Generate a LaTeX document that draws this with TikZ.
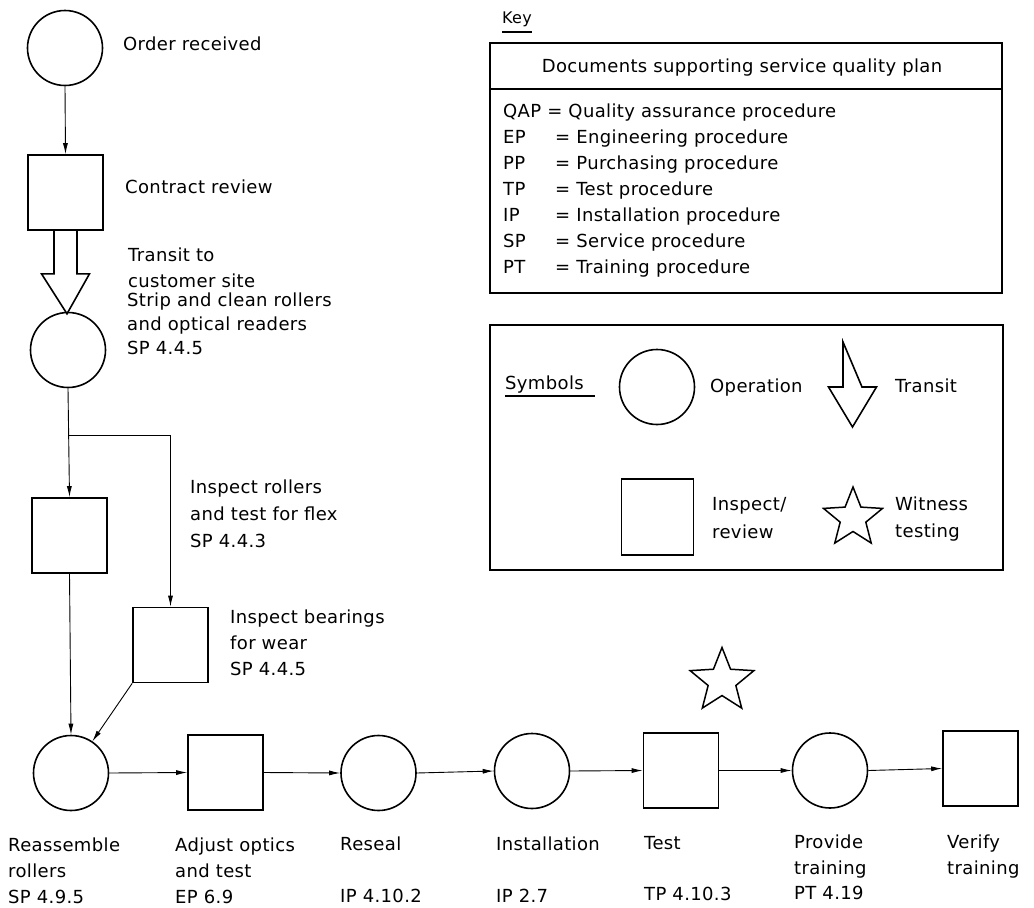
\documentclass[tikz,border=0pt]{standalone}
\usepackage{fontspec}
\setmainfont{DejaVu Sans}[LetterSpace=2]
\usetikzlibrary{arrows.meta,shapes.geometric,calc}
\begin{document}
\begin{tikzpicture}[x=1pt,y=-1pt,
  op/.style={circle,draw,line width=1.6pt,minimum size=75pt,inner sep=0},
  insp/.style={rectangle,draw,line width=1.6pt,minimum width=75pt,minimum height=75pt,inner sep=0},
  flow/.style={line width=0.9pt,-{Latex[length=11pt,width=5pt]}},
  txt/.style={anchor=base west,inner sep=0,font=\fontsize{18}{20}\selectfont},
  transit/.style={line width=1.6pt,line join=miter},
  witness/.style={star,star points=5,star point ratio=2.3,draw,line width=1.5pt,inner sep=0},
  keyline/.style={line width=1.3pt}]
\useasboundingbox (0,0) rectangle (1034,908);

% ---- flow shapes
\node[op] (order) at (65,48) {};
\node[insp] (contract) at (65.5,192.5) {};
\node[op] (strip) at (68,350) {};
\node[insp] (inrol) at (69.5,535.5) {};
\node[insp] (inbear) at (170.5,645) {};
\node[op] (reass) at (71,773) {};
\node[insp] (adjust) at (225.5,772.5) {};
\node[op] (reseal) at (378.5,773) {};
\node[op] (install) at (532,771) {};
\node[insp] (test) at (681,770.5) {};
\node[op] (provide) at (830,770.5) {};
\node[insp] (verify) at (980.5,768.5) {};
\node[witness,minimum size=67pt] (wstar) at (722,681) {};

% ---- connectors
\draw[flow] (order.south) -- (contract.north);
\draw[transit] ($(contract.south)+(-11.5,0)$) -- ++(0,43) -- ++(-12.5,0)
  -- ($(contract.south)+(1.5,83)$) -- ($(contract.south)+(24,43)$)
  -- ++(-12.5,0) -- ($(contract.south)+(11.5,0)$);
\draw[flow] (strip.south) -- (inrol.north);
\coordinate (branch) at ($(strip.south)!0.43!(inrol.north)$);
\draw[flow] (branch) -| (inbear.north);
\draw[flow] (inrol.south) -- (reass.north);
\draw[flow] (inbear.south west) -- (reass.56);
\draw[flow] (reass.east) -- (adjust.west);
\draw[flow] (adjust.east) -- (reseal.west);
\draw[flow] (reseal.east) -- (install.west);
\draw[flow] (install.east) -- (test.west);
\draw[flow] (test.east) -- (provide.west);
\draw[flow] (provide.east) -- (verify.west);

% ---- flow labels
\node[txt] (t1) at (123,50) {Order received};
\node[txt] (t2) at (125,193) {Contract review};
\node[txt] (t3a) at (128,261) {Transit to};
\node[txt] (t3b) at (128,287) {customer site};
\node[txt] (t4a) at (127,306) {Strip and clean rollers};
\node[txt] (t4b) at (127,330) {and optical readers};
\node[txt] (t4c) at (127,354) {SP 4.4.5};
\node[txt] (t5a) at (190,493) {Inspect rollers};
\node[txt] (t5b) at (190,520) {and test for flex};
\node[txt] (t5c) at (190,547) {SP 4.4.3};
\node[txt] (t6a) at (230,623) {Inspect bearings};
\node[txt] (t6b) at (230,649) {for wear};
\node[txt] (t6c) at (230,675) {SP 4.4.5};

\node[txt] (b1a) at (8,851) {Reassemble};
\node[txt] (b1b) at (8,877) {rollers};
\node[txt] (b1c) at (8,903) {SP 4.9.5};
\node[txt] (b2a) at (175,851) {Adjust optics};
\node[txt] (b2b) at (175,877) {and test};
\node[txt] (b2c) at (175,903) {EP 6.9};
\node[txt] (b3a) at (340,850) {Reseal};
\node[txt] (b3c) at (340,902) {IP 4.10.2};
\node[txt] (b4a) at (496,850) {Installation};
\node[txt] (b4c) at (496,902) {IP 2.7};
\node[txt] (b5a) at (644,849) {Test};
\node[txt] (b5c) at (644,900) {TP 4.10.3};
\node[txt] (b6a) at (794,848) {Provide};
\node[txt] (b6b) at (794,874) {training};
\node[txt] (b6c) at (794,899) {PT 4.19};
\node[txt] (b7a) at (947,848) {Verify};
\node[txt] (b7b) at (947,874) {training};

% ---- key
\node[txt,font=\fontsize{16}{18}\selectfont] (keyt) at (502,23) {Key};
\draw[line width=1.6pt] ($(keyt.base west)+(0,9)$) -- ($(keyt.base east)+(0,9)$);
\node[draw,keyline,minimum width=512pt,minimum height=250pt,inner sep=0] (keybox) at (746,168) {};
\coordinate (hdr) at (0,89);
\draw[keyline] (keybox.west |- hdr) -- (keybox.east |- hdr);
\node[anchor=base,inner sep=0,font=\fontsize{18}{20}\selectfont] (khead) at (742,72) {Documents supporting service quality plan};
\node[txt] (k1) at (503,117) {QAP = Quality assurance procedure};
\node[txt] (k2a) at (503,143) {EP};
\node[txt] (k2b) at (555,143) {= Engineering procedure};
\node[txt] (k3a) at (503,169) {PP};
\node[txt] (k3b) at (555,169) {= Purchasing procedure};
\node[txt] (k4a) at (503,195) {TP};
\node[txt] (k4b) at (555,195) {= Test procedure};
\node[txt] (k5a) at (503,221) {IP};
\node[txt] (k5b) at (555,221) {= Installation procedure};
\node[txt] (k6a) at (503,247) {SP};
\node[txt] (k6b) at (555,247) {= Service procedure};
\node[txt] (k7a) at (503,273) {PT};
\node[txt] (k7b) at (555,273) {= Training procedure};

% ---- symbols
\node[draw,keyline,minimum width=513pt,minimum height=245pt,inner sep=0] (symbox) at (746.5,447.5) {};
\node[txt] (sym) at (505,389) {Symbols};
\draw[line width=1.2pt] ($(sym.base west)+(0,7)$) -- ($(sym.base east)+(11,7)$);
\node[op] (lgop) at (657,387) {};
\node[txt] (lgopt) at (710,392) {Operation};
\draw[transit] (843,342) -- (843,387) -- (828.5,387) -- (852.5,427) -- (876.5,387) -- (862,387) -- cycle;
\node[txt] (lgtrt) at (895,392) {Transit};
\node[insp,minimum width=72pt,minimum height=76pt] (lgin) at (657.5,517) {};
\node[txt] (lgina) at (712,510) {Inspect/};
\node[txt] (lginb) at (712,538) {review};
\node[witness,minimum size=62pt] (lgstar) at (853,518) {};
\node[txt] (lgsta) at (895,510) {Witness};
\node[txt] (lgstb) at (895,537) {testing};
\end{tikzpicture}
\end{document}
